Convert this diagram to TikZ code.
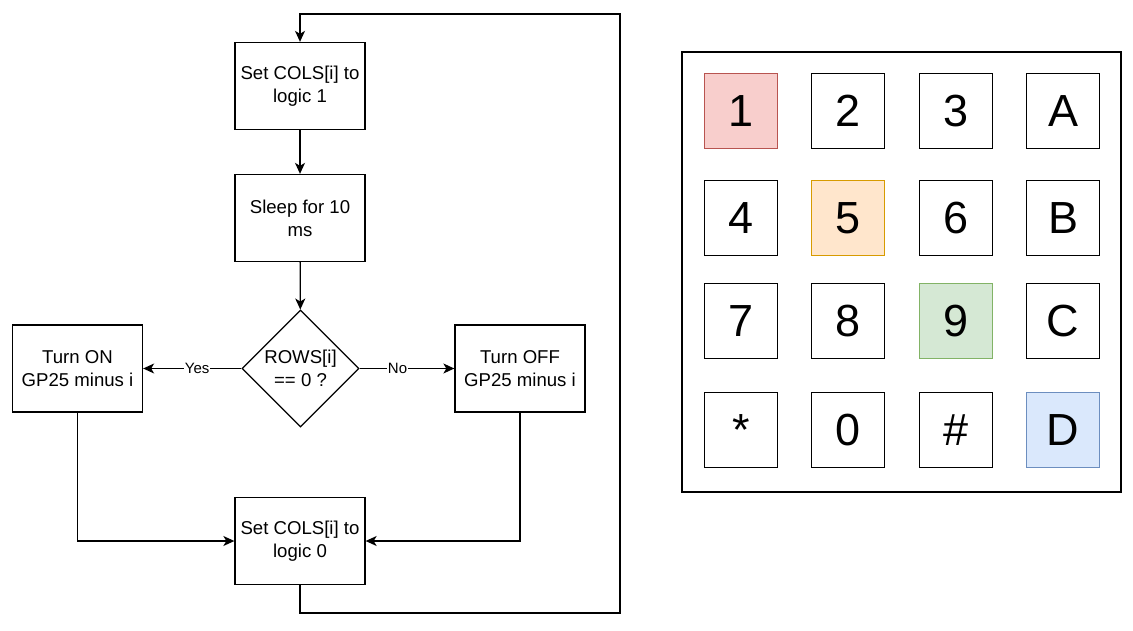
\documentclass[tikz,border=0pt]{standalone}
\usepackage{fontspec}
\setmainfont{Liberation Sans}
\usetikzlibrary{shapes.geometric,arrows.meta}
\definecolor{redfill}{HTML}{F8CECC}
\definecolor{redline}{HTML}{B85450}
\definecolor{orangefill}{HTML}{FFE6CC}
\definecolor{orangeline}{HTML}{D79B00}
\definecolor{greenfill}{HTML}{D5E8D4}
\definecolor{greenline}{HTML}{82B366}
\definecolor{bluefill}{HTML}{DAE8FC}
\definecolor{blueline}{HTML}{6C8EBF}

\begin{document}
\begin{tikzpicture}[x=1pt,y=-1pt,line width=1.3pt,
  >={Stealth[length=11pt,width=10pt,inset=3pt]},
  box/.style={draw,minimum width=130pt,minimum height=87pt,align=center,
    font=\fontsize{18.6}{23}\selectfont},
  cond/.style={draw,diamond,aspect=1,minimum size=117pt,inner sep=0pt,align=center,
    font=\fontsize{18.6}{23}\selectfont},
  lab/.style={fill=white,inner sep=1pt,font=\fontsize{15}{18}\selectfont},
  keybox/.style={draw,minimum width=73.5pt,minimum height=74.5pt,
    font=\fontsize{45}{54}\selectfont},
  keyred/.style={keybox,draw=redline,fill=redfill},
  keyorange/.style={keybox,draw=orangeline,fill=orangefill},
  keygreen/.style={keybox,draw=greenline,fill=greenfill},
  keyblue/.style={keybox,draw=blueline,fill=bluefill}]
\useasboundingbox (0,0) rectangle (1133,631);

% flowchart
\node [box] (set1) at (300,86) {Set COLS[i] to\\logic 1};
\node [box] (sleep) at (300,218) {Sleep for 10\\ms};
\node [cond] (rows) at (300.5,368.5) {ROWS[i]\\== 0 ?};
\node [box] (on) at (77.5,368.5) {Turn ON\\GP25 minus i};
\node [box] (off) at (520,368.5) {Turn OFF\\GP25 minus i};
\node [box] (set0) at (300,541) {Set COLS[i] to\\logic 0};

\draw [->] (set1)--(sleep);
\draw [->] (sleep)--(rows);
\draw [->] (rows.west)-- node [lab,pos=0.45] {Yes} (on.east);
\draw [->] (rows.east)-- node [lab,pos=0.4] {No} (off.west);
\draw [->] (on.south) |- (set0.west);
\draw [->] (off.south) |- (set0.east);

\coordinate (loopbot) at (300,613);
\coordinate (looptop) at (620,14);
\draw [->] (set0.south)--(loopbot) -| (looptop) -| (set1.north);

% keypad
\draw (682,52) rectangle (1121,492);
\foreach \t/\n/\x/\y/\s in {1/k1/741/111/keyred, 2/k2/848/111/keybox, 3/k3/956/111/keybox, A/kA/1063/111/keybox,
  4/k4/741/218/keybox, 5/k5/848/218/keyorange, 6/k6/956/218/keybox, B/kB/1063/218/keybox,
  7/k7/741/321/keybox, 8/k8/848/321/keybox, 9/k9/956/321/keygreen, C/kC/1063/321/keybox,
  */kstar/741/430/keybox, 0/k0/848/430/keybox, \#/khash/956/430/keybox, D/kD/1063/430/keyblue}
  \node [\s] (\n) at (\x,\y) {\t};
\end{tikzpicture}
\end{document}
